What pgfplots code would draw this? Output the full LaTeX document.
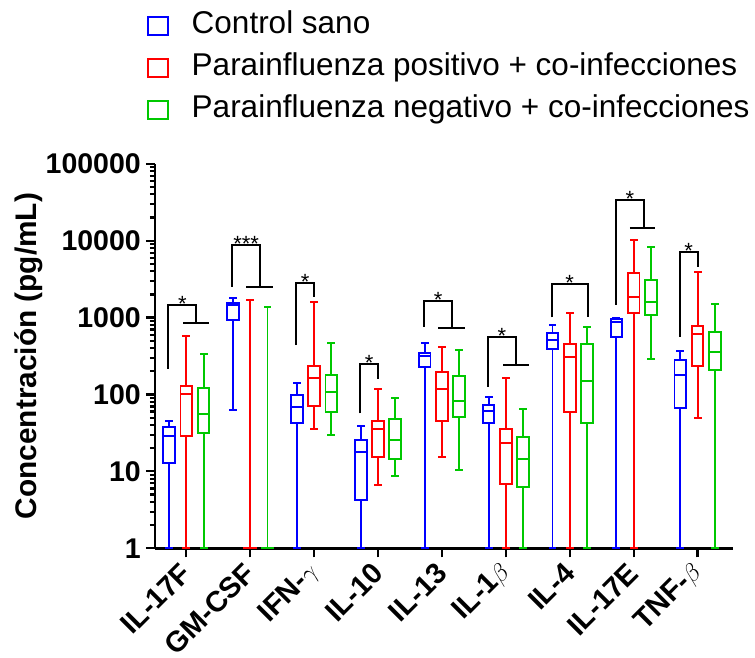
\documentclass[border=0pt]{standalone}
\usepackage{fontspec}
\setmainfont{Liberation Sans}
\usepackage{pgfplots}
\pgfplotsset{compat=1.18}
\definecolor{cb}{RGB}{0,0,255}
\definecolor{cr}{RGB}{255,0,0}
\definecolor{cg}{RGB}{0,200,0}
% box: colour, position, lower whisker, Q1, median, Q3, upper whisker
\newcommand{\boxdraw}[7]{%
  \pgfmathsetmacro\bxL{#2-0.0915}\pgfmathsetmacro\bxR{#2+0.0915}%
  \pgfmathsetmacro\bxl{#2-0.047}\pgfmathsetmacro\bxr{#2+0.047}%
  \addplot[#1, line width=1.9pt, forget plot, unbounded coords=jump, line cap=rect] coordinates {
   (\bxL,#4) (\bxR,#4) (\bxR,#6) (\bxL,#6) (\bxL,#4) (#2,nan)
   (\bxL,#5) (\bxR,#5) (#2,nan)
   (#2,#3) (#2,#4) (#2,nan)
   (#2,#6) (#2,#7) (#2,nan)
   (\bxl,#3) (\bxr,#3) (#2,nan)
   (\bxl,#7) (\bxr,#7)};}
% bracket: L, R, top, Lbottom, Rbottom, midpoint, stars
\newcommand{\brk}[7]{\draw[line width=1.9pt] (axis cs:#1,#4) |- (axis cs:#2,#3) -- (axis cs:#2,#5);
  \node[anchor=base, yshift=-6.6pt, inner sep=0pt, font=\fontsize{22}{22}\selectfont] at (axis cs:#6,#3) {#7};}
\newcommand{\sigbar}[3]{\draw[line width=1.9pt] (axis cs:#1,#3) -- (axis cs:#2,#3);}
\begin{document}
\begin{tikzpicture}
\begin{axis}[
  name=ax,
  scale only axis, width=577.7pt, height=384.5pt,
  ymode=log, ymin=1, ymax=100000,
  xmin=-0.49, xmax=8.55,
  axis x line*=bottom, axis y line*=left,
  axis line style={line width=2.6pt},
  xtick={0,1,2,3,4,5,6,7,8},
  xticklabels={IL-17F,GM-CSF,IFN-$\gamma$,IL-10,IL-13,IL-1$\beta$,IL-4,IL-17E,TNF-$\beta$},
  ytick={1,10,100,1000,10000,100000},
  yticklabels={1,10,100,1000,10000,100000},
  minor ytick={2,3,4,5,6,7,8,9,20,30,40,50,60,70,80,90,200,300,400,500,600,700,800,900,2000,3000,4000,5000,6000,7000,8000,9000,20000,30000,40000,50000,60000,70000,80000,90000},
  tick align=outside,
  major tick length=9pt, minor tick length=5pt,
  tick style={black, line width=2.2pt},
  xticklabel shift=11pt,
  xticklabel style={rotate=45, anchor=east, inner sep=0pt, font=\bfseries\fontsize{29}{30}\selectfont},
  yticklabel style={xshift=-5pt, anchor=east, inner sep=0pt, font=\bfseries\fontsize{28.5}{30}\selectfont},
  ylabel={Concentración (pg/mL)},
  ylabel style={font=\bfseries\fontsize{29.8}{32}\selectfont, at={(axis description cs:-0.1939,0.5)}, anchor=south, inner sep=0pt},
  clip=false,
  legend style={at={(axis description cs:-0.0138,1.3956)}, anchor=north west, draw=none, fill=none,
    font=\fontsize{31.5}{36}\selectfont, row sep=14pt, column sep=23pt, inner sep=0pt, outer sep=0pt,
    nodes={inner sep=0pt, text height=22pt, text depth=6pt}},
  legend cell align=left,
  legend image code/.code={\draw (0pt,-9pt) rectangle (20pt,9pt);},
]
\addlegendimage{cb, line width=1.7pt}
\addlegendentry{Control sano}
\addlegendimage{cr, line width=1.7pt}
\addlegendentry{Parainfluenza positivo + co-infecciones}
\addlegendimage{cg, line width=1.7pt}
\addlegendentry{Parainfluenza negativo + co-infecciones}
% IL-17F
\boxdraw{cb}{-0.27}{1}{13.0}{29.1}{37.4}{45.6}
\boxdraw{cr}{0}{1}{29.1}{100.6}{130}{577}
\boxdraw{cg}{0.27}{1}{31.9}{55.3}{122}{333}
% GM-CSF
\boxdraw{cb}{0.73}{62.9}{922}{1445}{1563}{1815}
\boxdraw{cr}{1}{1}{1}{1}{1}{1679}
\boxdraw{cg}{1.27}{1}{1}{1}{1}{1374}
% IFN-gamma
\boxdraw{cb}{1.73}{1}{42.2}{69.4}{98.5}{142}
\boxdraw{cr}{2}{35.6}{70.9}{162.5}{235}{1596}
\boxdraw{cg}{2.27}{29.7}{59.8}{108.7}{179}{472}
% IL-10
\boxdraw{cb}{2.73}{1}{4.25}{18.0}{25.6}{38.9}
\boxdraw{cr}{3}{6.65}{15.3}{35.3}{45.6}{117}
\boxdraw{cg}{3.27}{8.8}{14.5}{25.6}{48.0}{90.8}
% IL-13
\boxdraw{cb}{3.73}{1}{226}{317}{343}{463}
\boxdraw{cr}{4}{15.3}{45.6}{117}{198}{419}
\boxdraw{cg}{4.27}{10.4}{51}{82.3}{176}{379}
% IL-1beta
\boxdraw{cb}{4.73}{1}{42.2}{61.5}{73}{92}
\boxdraw{cr}{5}{1}{6.86}{23.2}{35.9}{165}
\boxdraw{cg}{5.27}{1}{6.27}{14.6}{28.3}{64.2}
% IL-4
\boxdraw{cb}{5.73}{1}{391}{507}{625}{794}
\boxdraw{cr}{6}{1}{59.2}{307}{454}{1137}
\boxdraw{cg}{6.27}{1}{42.2}{151}{454}{748}
% IL-17E
\boxdraw{cb}{6.73}{1}{560}{885}{959}{997}
\boxdraw{cr}{7}{1}{1137}{1871}{3767}{10210}
\boxdraw{cg}{7.27}{287}{1072}{1596}{3083}{8280}
% TNF-beta
\boxdraw{cb}{7.73}{1}{67.4}{179}{284}{371}
\boxdraw{cr}{8}{49.5}{237}{612}{771}{3883}
\boxdraw{cg}{8.27}{1}{206}{357}{656}{1517}
% significance brackets
\brk{-0.28}{0.155}{1459}{215}{859}{-0.0625}{*}
\sigbar{-0.05}{0.36}{859}
\brk{0.72}{1.155}{8710}{2500}{2500}{0.9375}{***}
\sigbar{0.94}{1.36}{2500}
\brk{1.72}{2.0}{2818}{440}{1871}{1.86}{*}
\brk{2.72}{3.0}{249}{57}{159}{2.86}{*}
\brk{3.72}{4.155}{1659}{762}{732}{3.94}{*}
\sigbar{3.94}{4.36}{732}
\brk{4.72}{5.155}{565}{126}{244}{4.94}{*}
\sigbar{4.96}{5.37}{244}
\brk{5.72}{6.28}{2760}{1009}{1009}{6.0}{*}
\brk{6.72}{7.155}{34100}{1472}{14760}{6.94}{*}
\sigbar{6.94}{7.34}{14760}
\brk{7.72}{8.0}{7060}{565}{4590}{7.86}{*}
\end{axis}
\pgfresetboundingbox
\path[use as bounding box] ([shift={(-155pt,-109.7pt)}]ax.south west) rectangle ([shift={(22.3pt,163.8pt)}]ax.north east);
\end{tikzpicture}
\end{document}
